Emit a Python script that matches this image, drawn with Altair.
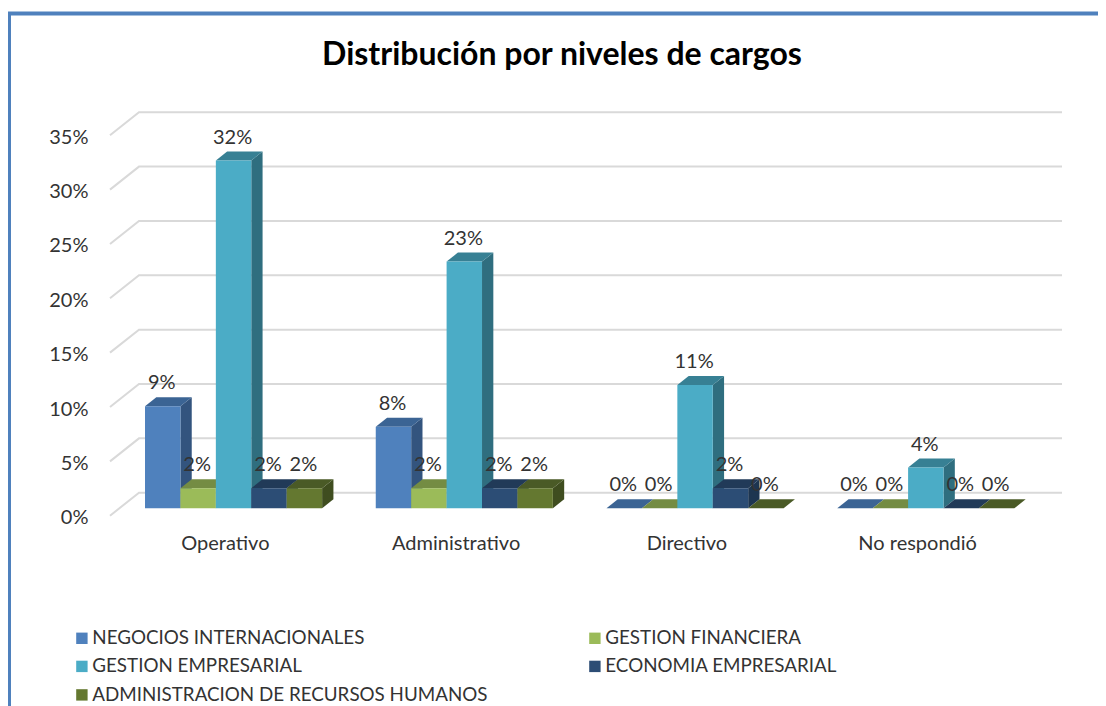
import altair as alt
import pandas as pd

categories = ["Operativo", "Administrativo", "Directivo", "No respondió"]
series = ["NEGOCIOS INTERNACIONALES", "GESTION FINANCIERA", "GESTION EMPRESARIAL",
          "ECONOMIA EMPRESARIAL", "ADMINISTRACION DE RECURSOS HUMANOS"]
negocios = [9.4, 7.5, 0, 0]
financiera = [1.85, 1.85, 0, 0]
empresarial = [32.0, 22.7, 11.35, 3.75]
economia = [1.85, 1.85, 1.85, 0]
recursos = [1.85, 1.85, 0, 0]
values = [negocios, financiera, empresarial, economia, recursos]

front = ["#4F81BD", "#9BBB59", "#4BACC6", "#2C4D75", "#647830"]
top = ["#3B6494", "#748C43", "#378094", "#213A58", "#4A5A26"]
side = ["#33547E", "#65793A", "#2F6E7F", "#1D3550", "#3F4D1F"]
y_ticks = [0, 5, 10, 15, 20, 25, 30, 35]

W, H = 1090, 698
CAT_PX, PCT_PX = 230.75, 10.87          # pixels per category, per percentage point
DEPTH_X, DEPTH_Y = 29 / CAT_PX, 23 / PCT_PX   # oblique shift of the full floor depth
GAP, BAR = 0.1115, 0.1535
D0, D1 = 0.32, 0.71


def px(u, d):
    return u + DEPTH_X * d


def py(v, d):
    return v + DEPTH_Y * d


faces, labels = [], []
for i, cat in enumerate(categories):
    for k, name in enumerate(series):
        v = values[k][i]
        u0 = i + GAP + k * BAR
        u1 = u0 + BAR
        fid = f"{i}-{k}"
        # side face
        for x, y, y2 in [(px(u1, D0), py(v, D0), py(0, D0)), (px(u1, D1), py(v, D1), py(0, D1))]:
            faces.append(dict(face=f"{fid}-a", key=name + " side", x=x, y=y, y2=y2))
        # top face
        for x, y, y2 in [(px(u0, D0), py(v, D0), py(v, D0)),
                         (px(u0, D1), py(v, D1), py(v, D0)),
                         (px(u1, D0), py(v, D1), py(v, D0)),
                         (px(u1, D1), py(v, D1), py(v, D1))]:
            faces.append(dict(face=f"{fid}-b", key=name + " top", x=x, y=y, y2=y2))
        # front face
        for x in (px(u0, D0), px(u1, D0)):
            faces.append(dict(face=f"{fid}-c", key=name, x=x, y=py(v, D0), y2=py(0, D0)))
        labels.append(dict(x=(px(u0, D0) + px(u1, D0)) / 2, y=py(v, D0), label=f"{round(v)}%"))

grid = []
for t in y_ticks:
    for n, (u, d) in enumerate([(0, 0), (0, 1), (len(categories), 1)]):
        grid.append(dict(tick=t, n=n, x=px(u, d), y=py(t, d)))

cats = [dict(x=i + 0.5, y=0, cat=c) for i, c in enumerate(categories)]

x_scale = alt.Scale(domain=[-102 / CAT_PX, 988 / CAT_PX], range=[0, W], nice=False, zero=False)
y_scale = alt.Scale(domain=[-190.3 / PCT_PX, 507.7 / PCT_PX], range=[H, 0], nice=False, zero=False)

FONT = "Lato"
INK = "#333333"

y_axis = alt.Axis(
    values=y_ticks, labelExpr="datum.value + '%'", title=None, domain=False, ticks=False,
    grid=False, offset=-80, labelPadding=0, labelFont=FONT, labelFontSize=20,
    labelColor=INK, labelOffset=2)

grid_layer = alt.Chart(pd.DataFrame(grid)).mark_line(color="#D9D9D9", strokeWidth=2).encode(
    x=alt.X("x:Q", scale=x_scale, axis=None),
    y=alt.Y("y:Q", scale=y_scale, axis=y_axis),
    detail="tick:N",
    order="n:Q",
)

keys = series + [s + " top" for s in series] + [s + " side" for s in series]
bar_layer = alt.Chart(pd.DataFrame(faces)).mark_area(opacity=1).encode(
    x=alt.X("x:Q", scale=x_scale, axis=None),
    y=alt.Y("y:Q", scale=y_scale, axis=y_axis),
    y2="y2:Q",
    detail="face:N",
    color=alt.Color("key:N", scale=alt.Scale(domain=keys, range=front + top + side),
                    legend=alt.Legend(
                        values=series, title=None, orient="none", legendX=64.5, legendY=620.5,
                        columns=2, direction="horizontal", columnPadding=98, rowPadding=8.5,
                        symbolType="square", symbolSize=130, symbolStrokeWidth=0,
                        labelFont=FONT, labelFontSize=18.8, labelColor=INK, labelOffset=1,
                        labelLimit=600)),
)

label_layer = alt.Chart(pd.DataFrame(labels)).mark_text(
    font=FONT, fontSize=20, color=INK, dy=-23, dx=-1, baseline="middle", align="center"
).encode(
    x=alt.X("x:Q", scale=x_scale, axis=None),
    y=alt.Y("y:Q", scale=y_scale, axis=y_axis),
    text="label:N",
)

cat_layer = alt.Chart(pd.DataFrame(cats)).mark_text(
    font=FONT, fontSize=20, color=INK, dy=28, baseline="middle", align="center"
).encode(
    x=alt.X("x:Q", scale=x_scale, axis=None),
    y=alt.Y("y:Q", scale=y_scale, axis=y_axis),
    text="cat:N",
)

frame_top = alt.Chart(pd.DataFrame({"a": [0]})).mark_rule(color="#4F81BD", strokeWidth=4).encode(
    x=alt.value(0), x2=alt.value(W), y=alt.value(5.5))
frame_left = alt.Chart(pd.DataFrame({"a": [0]})).mark_rule(color="#4F81BD", strokeWidth=3).encode(
    x=alt.value(1.5), y=alt.value(4), y2=alt.value(H))

chart = alt.layer(frame_top, frame_left, grid_layer, bar_layer, label_layer, cat_layer).resolve_scale(
    x="shared", y="shared"
).properties(
    width=W, height=H, padding=0, autosize=alt.AutoSizeParams(type="none"),
    background="white",
    title=alt.TitleParams("Distribución por niveles de cargos", font=FONT, fontSize=32,
                          fontWeight="bold", color="black", anchor="middle", dy=64, dx=9, offset=0),
).configure_view(stroke=None)

chart.save("out.html", embed_options={"renderer": "svg", "actions": False})
